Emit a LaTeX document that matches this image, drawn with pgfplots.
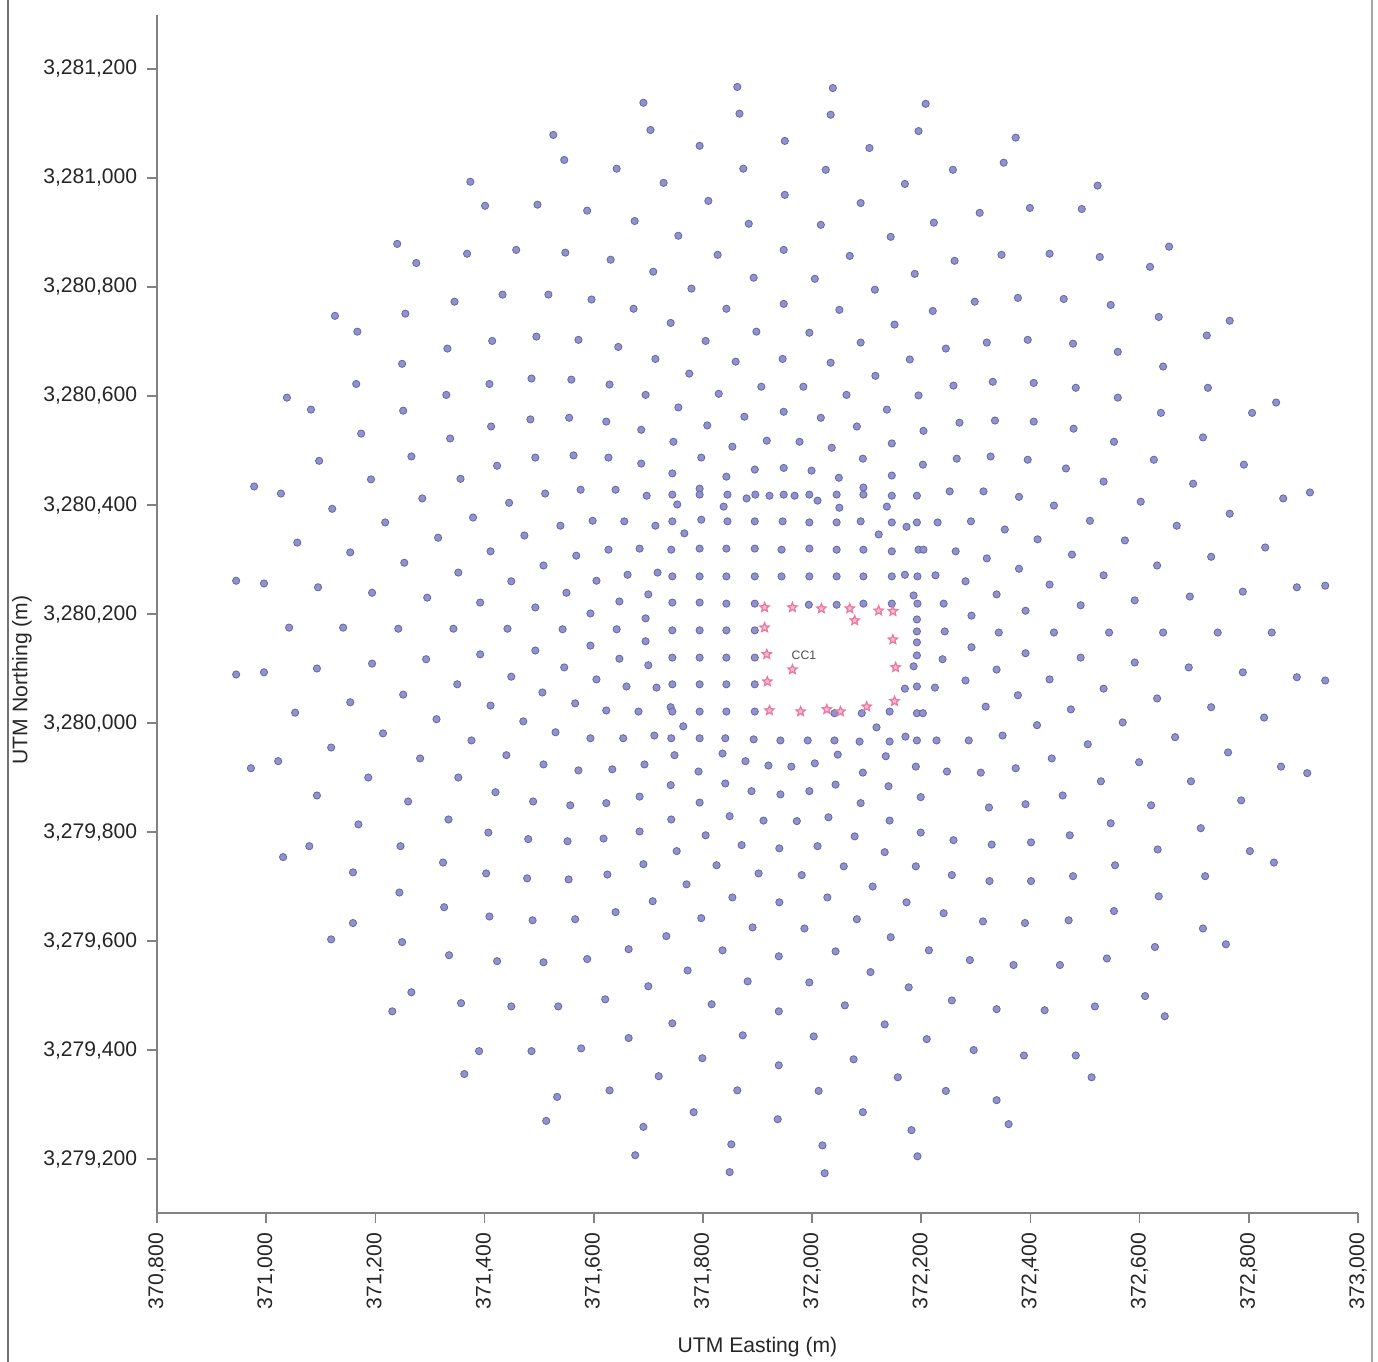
\documentclass[border=0pt]{standalone}
\usepackage{pgfplots}
\pgfplotsset{compat=1.18}
\usepackage{pgfplotstable}
\usepackage{fontspec}
\setmainfont{Liberation Sans}
\definecolor{rcpfill}{RGB}{145,145,205}
\definecolor{rcpdraw}{RGB}{105,105,165}
\definecolor{starpink}{RGB}{236,120,160}
\definecolor{starfill}{RGB}{248,190,210}
\definecolor{axgray}{RGB}{130,130,130}
\pgfdeclareplotmark{ostar}{%
  \pgfpathmoveto{\pgfpointpolar{90}{\pgfplotmarksize}}%
  \pgfpathlineto{\pgfpointpolar{126}{0.45\pgfplotmarksize}}%
  \pgfpathlineto{\pgfpointpolar{162}{\pgfplotmarksize}}%
  \pgfpathlineto{\pgfpointpolar{198}{0.45\pgfplotmarksize}}%
  \pgfpathlineto{\pgfpointpolar{234}{\pgfplotmarksize}}%
  \pgfpathlineto{\pgfpointpolar{270}{0.45\pgfplotmarksize}}%
  \pgfpathlineto{\pgfpointpolar{306}{\pgfplotmarksize}}%
  \pgfpathlineto{\pgfpointpolar{342}{0.45\pgfplotmarksize}}%
  \pgfpathlineto{\pgfpointpolar{18}{\pgfplotmarksize}}%
  \pgfpathlineto{\pgfpointpolar{54}{0.45\pgfplotmarksize}}%
  \pgfpathclose\pgfusepathqfillstroke}

\pgfplotstableread{
x y
371526 3281079
371374 3280993
371401 3280949
371497 3280951
371240 3280879
371368 3280861
371458 3280868
371275 3280844
371433 3280786
371517 3280786
371345 3280773
371126 3280747
371255 3280751
371167 3280718
371414 3280701
371495 3280709
371332 3280687
371249 3280659
371165 3280622
371409 3280622
371486 3280632
371330 3280602
371038 3280597
371082 3280575
371251 3280573
371863 3281167
372038 3281165
371691 3281138
371867 3281118
372034 3281116
372208 3281136
371704 3281088
371950 3281068
372105 3281055
372195 3281086
371546 3281033
371794 3281059
371642 3281017
371874 3281017
372025 3281015
372258 3281015
371728 3280991
372170 3280989
371810 3280958
371950 3280969
372089 3280954
371588 3280940
371675 3280921
371884 3280916
372016 3280914
372223 3280918
371755 3280894
372144 3280892
371548 3280863
371631 3280850
371827 3280859
371948 3280868
372069 3280857
372261 3280848
371709 3280828
371893 3280817
372005 3280815
372188 3280824
371779 3280797
372115 3280795
371596 3280777
371673 3280760
371843 3280760
371948 3280769
372050 3280758
372221 3280756
371741 3280734
371898 3280718
371995 3280716
372151 3280731
371572 3280703
371645 3280690
371805 3280701
372089 3280698
372245 3280687
371713 3280668
371860 3280663
371946 3280668
372034 3280661
372179 3280667
371559 3280630
371629 3280621
371775 3280641
372116 3280637
371695 3280602
371829 3280604
371907 3280617
371984 3280617
372063 3280602
372195 3280601
372259 3280619
371755 3280579
371948 3280571
372137 3280575
372373 3281074
372351 3281028
372523 3280986
372307 3280936
372399 3280945
372494 3280943
372347 3280859
372435 3280861
372527 3280855
372654 3280874
372619 3280837
372298 3280773
372377 3280780
372461 3280778
372547 3280767
372635 3280745
372765 3280738
372320 3280698
372395 3280703
372478 3280696
372560 3280681
372723 3280711
372643 3280654
372725 3280615
372850 3280588
372331 3280626
372406 3280624
372483 3280615
372560 3280597
372639 3280569
372806 3280569
371484 3280557
371412 3280544
371174 3280531
371337 3280522
371097 3280481
371266 3280489
371423 3280472
371493 3280487
371192 3280447
371356 3280448
370978 3280434
371027 3280421
371286 3280412
371445 3280404
371511 3280421
371121 3280393
371379 3280377
371218 3280368
371315 3280340
371473 3280344
371057 3280331
371154 3280313
371411 3280315
371253 3280294
371508 3280289
371352 3280276
370945 3280261
370996 3280256
371095 3280249
371449 3280260
371194 3280239
371295 3280230
371392 3280221
371493 3280212
371042 3280175
371141 3280175
371242 3280173
371343 3280173
371442 3280173
371392 3280126
371493 3280133
371194 3280109
371293 3280117
370945 3280089
370996 3280093
371093 3280100
371449 3280085
371350 3280071
371251 3280052
371506 3280056
371154 3280038
371411 3280032
371053 3280019
371312 3280007
371471 3280003
371530 3279983
371214 3279981
371376 3279968
371119 3279955
371282 3279935
371440 3279941
371508 3279924
370972 3279917
371022 3279930
371187 3279900
371352 3279900
371420 3279873
371093 3279867
371260 3279856
371489 3279856
371555 3280560
371623 3280553
371687 3280538
371808 3280546
371876 3280562
372016 3280560
372082 3280544
372204 3280536
371746 3280516
371917 3280518
371977 3280516
372036 3280505
371854 3280507
372146 3280513
371563 3280491
371627 3280487
371797 3280487
371687 3280476
372093 3280485
372203 3280474
372265 3280485
371895 3280465
371948 3280468
371999 3280463
371744 3280458
371843 3280452
372049 3280450
372146 3280454
371576 3280428
371640 3280428
371697 3280417
371744 3280419
371794 3280430
371794 3280419
371845 3280419
371880 3280412
371896 3280419
371922 3280417
371948 3280419
371968 3280417
371995 3280419
372010 3280408
372045 3280419
372094 3280432
372094 3280419
372146 3280417
372192 3280417
372252 3280425
371753 3280401
371838 3280397
372050 3280395
372137 3280397
371539 3280362
371598 3280371
371656 3280370
371713 3280362
371744 3280370
371797 3280373
371845 3280370
371895 3280370
371946 3280370
371995 3280368
372045 3280368
372089 3280370
372146 3280368
372173 3280360
372192 3280368
372230 3280368
371766 3280348
372122 3280346
371568 3280307
371627 3280318
371684 3280320
371742 3280318
371794 3280320
371843 3280320
371895 3280320
371944 3280318
371995 3280320
372045 3280318
372094 3280318
372146 3280315
372195 3280318
372204 3280318
372263 3280315
371605 3280261
371662 3280272
371717 3280276
371744 3280269
371794 3280269
371843 3280269
371895 3280269
371944 3280269
371995 3280269
372045 3280269
372094 3280269
372146 3280269
372170 3280272
372193 3280269
372226 3280271
371550 3280239
371700 3280236
371647 3280223
371744 3280221
371794 3280221
371843 3280219
371895 3280219
371994 3280217
372045 3280217
372094 3280219
372146 3280219
372186 3280234
372193 3280219
372241 3280219
371594 3280201
371695 3280192
371543 3280172
371642 3280172
371744 3280170
371794 3280170
371843 3280170
371895 3280170
372192 3280190
372192 3280168
372243 3280168
371695 3280150
371594 3280142
372192 3280148
371546 3280102
371647 3280118
371700 3280106
371744 3280120
371794 3280120
371843 3280120
371895 3280120
372192 3280124
372186 3280104
372239 3280117
371605 3280080
371660 3280067
371715 3280065
371744 3280071
371794 3280071
371843 3280071
371895 3280071
372170 3280063
372192 3280067
372225 3280065
371566 3280036
371623 3280023
371682 3280021
371741 3280029
371744 3280021
371794 3280021
371843 3280021
371895 3280021
372041 3280018
372091 3280018
372142 3280021
372192 3280018
372203 3280018
371764 3279994
372118 3279992
371594 3279972
371654 3279972
371711 3279977
371742 3279972
371794 3279972
371841 3279972
371893 3279970
371942 3279968
371992 3279968
372041 3279968
372087 3279966
372142 3279966
372171 3279975
372192 3279968
372228 3279968
371748 3279941
371836 3279944
372047 3279942
372135 3279939
371572 3279913
371634 3279915
371693 3279924
371792 3279911
371878 3279930
371920 3279922
371962 3279920
372005 3279926
372093 3279909
372190 3279920
372247 3279911
371741 3279886
371841 3279889
371889 3279875
371942 3279869
371995 3279875
372043 3279887
372140 3279884
372199 3279864
371557 3279849
371623 3279853
371684 3279865
371794 3279854
372089 3279853
372270 3280551
372335 3280555
372406 3280553
372479 3280540
372553 3280516
372716 3280524
372327 3280489
372395 3280483
372465 3280467
372534 3280443
372626 3280483
372791 3280474
372698 3280439
372314 3280425
372379 3280415
372443 3280399
372602 3280406
372863 3280412
372912 3280423
372765 3280384
372291 3280370
372353 3280355
372413 3280337
372509 3280371
372573 3280335
372668 3280362
372830 3280322
372731 3280305
372320 3280302
372379 3280283
372476 3280309
372632 3280289
372534 3280271
372281 3280260
372338 3280236
372435 3280254
372591 3280225
372692 3280232
372789 3280241
372888 3280249
372940 3280252
372292 3280197
372391 3280206
372492 3280216
372342 3280166
372443 3280166
372544 3280166
372643 3280166
372743 3280166
372842 3280166
372292 3280139
372391 3280128
372492 3280120
372591 3280111
372690 3280102
372789 3280093
372888 3280084
372940 3280078
372338 3280098
372281 3280078
372435 3280080
372377 3280051
372534 3280063
372632 3280045
372318 3280030
372474 3280025
372731 3280029
372828 3280010
372412 3279996
372569 3280001
372287 3279968
372349 3279977
372505 3279961
372665 3279974
372762 3279946
372439 3279935
372599 3279928
372859 3279920
372907 3279908
372309 3279909
372373 3279917
372529 3279893
372694 3279893
372459 3279867
372324 3279845
372391 3279851
372621 3279849
372786 3279858
371169 3279814
371334 3279823
371407 3279799
371480 3279787
371079 3279774
371246 3279774
371031 3279754
371324 3279744
371159 3279726
371403 3279724
371478 3279715
371244 3279689
371326 3279662
371409 3279645
371488 3279638
371159 3279633
371119 3279603
371249 3279598
371335 3279574
371423 3279563
371508 3279561
371266 3279506
371357 3279486
371449 3279480
371535 3279480
371231 3279471
371390 3279398
371486 3279398
371363 3279356
371533 3279314
371513 3279270
371742 3279823
371849 3279829
371911 3279821
371972 3279820
372030 3279827
372142 3279821
371684 3279801
371552 3279783
371618 3279788
371805 3279794
371871 3279776
371940 3279770
372010 3279774
372078 3279792
372133 3279763
372199 3279799
372259 3279785
371752 3279765
371691 3279741
371825 3279739
371902 3279724
371981 3279721
372058 3279737
372190 3279737
372256 3279721
371554 3279713
371625 3279722
371770 3279704
371854 3279680
371940 3279671
372028 3279680
372111 3279700
372173 3279671
372241 3279651
371566 3279640
371640 3279653
371708 3279673
371797 3279642
371891 3279625
371986 3279623
372082 3279640
372144 3279607
371733 3279609
371588 3279567
371664 3279585
371836 3279583
371939 3279572
372043 3279581
372214 3279583
371772 3279546
372107 3279543
371700 3279517
371882 3279526
371995 3279524
372177 3279515
371621 3279493
371816 3279484
371939 3279471
372060 3279482
372256 3279491
371744 3279449
372133 3279447
371664 3279422
371873 3279427
372003 3279425
372210 3279420
371577 3279403
371799 3279385
371939 3279372
372076 3279383
371719 3279352
372157 3279350
371629 3279326
371863 3279326
372012 3279325
372245 3279325
371783 3279286
371937 3279273
372093 3279286
371691 3279259
372182 3279253
371676 3279207
371852 3279227
372019 3279225
372193 3279205
371849 3279176
372023 3279174
372547 3279816
372712 3279807
372329 3279777
372401 3279781
372472 3279794
372633 3279768
372802 3279765
372846 3279744
372555 3279739
372325 3279710
372401 3279710
372478 3279719
372720 3279719
372635 3279682
372553 3279655
372313 3279636
372390 3279633
372470 3279638
372716 3279623
372758 3279594
372628 3279589
372289 3279565
372369 3279556
372454 3279556
372540 3279568
372610 3279499
372646 3279462
372338 3279475
372426 3279473
372518 3279480
372296 3279400
372388 3279390
372483 3279390
372512 3279350
372338 3279308
372360 3279264
}\receptors

\pgfplotstableread{
x y
371913 3280212
371964 3280212
372017 3280210
372069 3280210
372078 3280188
372122 3280206
372148 3280205
371913 3280175
372148 3280153
371917 3280126
371964 3280098
372153 3280102
371918 3280076
371922 3280023
371979 3280021
372027 3280025
372052 3280021
372100 3280030
372151 3280040
}\sources

\begin{document}
\begin{tikzpicture}
\useasboundingbox (-56.52pt,-53.64pt) rectangle (439.56pt,436.68pt);
\draw[black!55, line width=0.6pt] (-53.64pt,-53.64pt) -- (-53.64pt,436.68pt);
\draw[black!35, line width=0.5pt] (437.4pt,-53.64pt) -- (437.4pt,436.68pt);
\begin{axis}[
  at={(0pt,0pt)}, anchor=south west,
  scale only axis, width=432.36pt, height=431.28pt,
  xmin=370800, xmax=373000, ymin=3279101, ymax=3281299,
  axis x line*=bottom, axis y line*=left,
  axis line style={draw=axgray, line width=0.6pt},
  tick align=outside, major tick length=3.6pt,
  tick style={draw=axgray, line width=0.6pt},
  scaled ticks=false,
  xtick={370800,371000,371200,371400,371600,371800,372000,372200,372400,372600,372800,373000},
  xticklabels={{370,800},{371,000},{371,200},{371,400},{371,600},{371,800},{372,000},{372,200},{372,400},{372,600},{372,800},{373,000}},
  ytick={3279200,3279400,3279600,3279800,3280000,3280200,3280400,3280600,3280800,3281000,3281200},
  yticklabels={{3,279,200},{3,279,400},{3,279,600},{3,279,800},{3,280,000},{3,280,200},{3,280,400},{3,280,600},{3,280,800},{3,281,000},{3,281,200}},
  xticklabel style={rotate=90, anchor=east, font=\fontsize{7.6}{9}\selectfont, text=black!85},
  yticklabel style={font=\fontsize{7.6}{9}\selectfont, text=black!85},
  xlabel={UTM Easting (m)},
  ylabel={UTM Northing (m)},
  xlabel style={at={(axis description cs:0.5,-0.1118)}, anchor=center, font=\fontsize{7.6}{9}\selectfont, text=black!85},
  ylabel style={at={(axis description cs:-0.1124,0.445)}, anchor=center, font=\fontsize{7.6}{9}\selectfont, text=black!85},
  clip=false,
]
\addplot[only marks, mark=*, mark size=1.3pt, mark options={fill=rcpfill, draw=rcpdraw, line width=0.3pt}] table[x=x, y=y] {\receptors};
\addplot[only marks, mark=ostar, mark size=1.75pt, mark options={draw=starpink, fill=starfill, line width=0.45pt}] table[x=x, y=y] {\sources};
\node[font=\fontsize{4.4}{5}\selectfont, text=black!70] at (axis cs:371985,3280124) {CC1};
\end{axis}
\end{tikzpicture}
\end{document}
